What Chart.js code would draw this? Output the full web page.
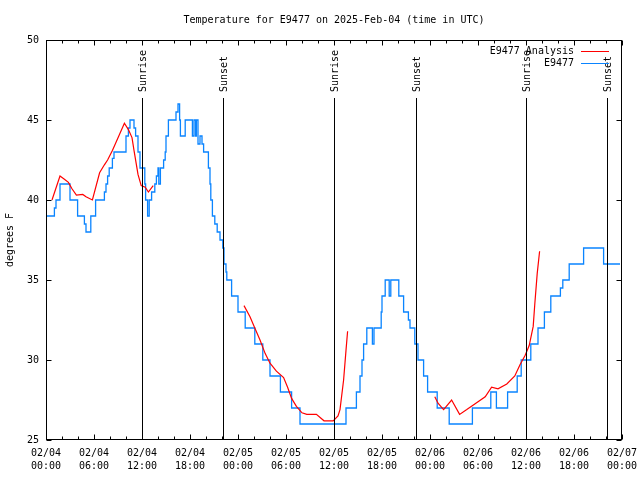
<!DOCTYPE html>
<html>
<head>
<meta charset="utf-8">
<script src="https://cdn.jsdelivr.net/npm/chart.js@4"></script>
<style>
  body { margin: 0; background: #fff; }
  canvas { display: block; }
</style>
</head>
<body>
<canvas id="chart" width="640" height="480"></canvas>
<script>
// Observed temperature (hours since 02/04 00:00 UTC, degrees F), step data
const obsHours = [0.0, 1.05, 1.25, 1.75, 3.0, 3.95, 4.8, 5.0, 5.6, 6.2, 7.3, 7.5, 7.7, 7.9, 8.3, 8.5,
  10.0, 10.3, 10.5, 11.0, 11.2, 11.5, 11.75, 12.35, 12.45, 12.7, 12.9, 13.2, 13.6, 13.8, 14.0, 14.1,
  14.3, 14.7, 14.9, 15.0, 15.3, 16.25, 16.5, 16.7, 16.8, 17.4, 18.3, 18.5, 18.7, 18.8, 19.0, 19.25,
  19.5, 19.7, 20.3, 20.5, 20.6, 20.8, 21.1, 21.4, 21.75, 22.1, 22.25, 22.5, 22.6, 23.2, 24.0, 24.9,
  26.1, 27.1, 28.0, 29.3, 30.7, 31.75, 37.5, 38.8, 39.25, 39.5, 39.7, 40.1, 40.8, 41.0, 41.9, 42.0,
  42.4, 42.9, 43.1, 44.1, 44.7, 45.3, 45.5, 46.1, 46.5, 47.2, 47.7, 48.9, 50.4, 53.3, 55.6, 56.3,
  57.7, 58.9, 59.4, 60.6, 61.5, 62.3, 63.1, 64.3, 64.6, 65.4, 67.2, 69.7, 71.75];
const obsTemps = [39, 39.5, 40, 41, 40, 39, 38.5, 38, 39, 40, 40.5, 41, 41.5, 42, 42.6, 43,
  44, 44.5, 45, 44.5, 44, 43, 42, 41, 40, 39, 40, 40.5, 41, 41.5, 42, 41,
  42, 42.5, 43, 44, 45, 45.5, 46, 45, 44, 45, 44, 45, 44, 45, 43.5, 44,
  43.5, 43, 42, 41, 40, 39, 38.5, 38, 37.5, 37, 36, 35.5, 35, 34, 33, 32,
  31, 30, 29, 28, 27, 26, 27, 28, 29, 30, 31, 32, 31, 32, 33, 34,
  35, 34, 35, 34, 33, 32.5, 32, 31, 30, 29, 28, 27, 26, 27, 28, 27,
  28, 29, 30, 31, 32, 33, 34, 34.5, 35, 36, 37, 36, 36];

// Analysis temperature (null = break in the line)
const anaHours = [0.75, 1.75, 2.3, 2.8, 3.25, 3.8, 4.6, 5.0, 5.8, 6.7, 7.3, 7.7, 8.3, 9.1, 9.8, 10.3,
  10.75, 11.0, 11.5, 11.9, 12.4, 12.8, 13.4, 18,
  24.75, 25.5, 26.1, 26.75, 27.4, 28.0, 28.8, 29.7, 30.2, 30.7, 31.3, 32.0, 32.6, 33.8, 34.75, 35.9,
  36.5, 36.75, 37.2, 37.5, 37.7, 43,
  48.6, 49.0, 49.7, 50.7, 51.7, 52.6, 53.6, 54.9, 55.7, 56.5, 57.6, 58.6, 59.25, 59.9, 60.4, 60.9,
  61.1, 61.4, 61.7];
const anaTemps = [40.0, 41.5, 41.3, 41.1, 40.7, 40.3, 40.35, 40.2, 40.0, 41.7, 42.2, 42.5, 43.1, 44.0, 44.8, 44.4,
  43.9, 43.1, 41.6, 40.9, 40.8, 40.5, 40.9, null,
  33.4, 32.7, 32.0, 31.25, 30.4, 29.8, 29.3, 28.9, 28.3, 27.6, 27.1, 26.7, 26.6, 26.6, 26.2, 26.2,
  26.5, 26.9, 28.75, 30.6, 31.8, null,
  27.7, 27.3, 26.9, 27.5, 26.6, 26.9, 27.25, 27.7, 28.3, 28.2, 28.5, 29.0, 29.7, 30.3, 30.9, 32.1,
  33.5, 35.4, 36.8];

// Sunrise / sunset markers (hours)
const sunHours = [12.05, 22.17, 36.03, 46.2, 59.98, 70.17];
const sunLabels = ['Sunrise', 'Sunset', 'Sunrise', 'Sunset', 'Sunrise', 'Sunset'];

const xTickLabels = [
  ['02/04', '00:00'], ['02/04', '06:00'], ['02/04', '12:00'], ['02/04', '18:00'],
  ['02/05', '00:00'], ['02/05', '06:00'], ['02/05', '12:00'], ['02/05', '18:00'],
  ['02/06', '00:00'], ['02/06', '06:00'], ['02/06', '12:00'], ['02/06', '18:00'],
  ['02/07', '00:00']
];

const FONT = 'DejaVu Sans Mono';
const BLUE = '#0a84ff';
const RED = '#ff0000';

const gnuplotLook = {
  id: 'gnuplotLook',
  afterDatasetsDraw(chart) {
    const { ctx, chartArea: a, scales: { x, y } } = chart;
    const L = Math.round(a.left) + 0.5, R = Math.round(a.right) - 0.5;
    const T = Math.round(a.top) + 0.5, B = Math.round(a.bottom) - 0.5;
    ctx.save();
    ctx.strokeStyle = '#000';
    ctx.lineWidth = 1;
    ctx.beginPath();
    // inward tick marks, x every 2h (major every 6h)
    for (let h = 0; h <= 72; h += 2) {
      const px = Math.round(x.getPixelForValue(h)) + 0.5;
      const len = h % 6 === 0 ? 5 : 3;
      ctx.moveTo(px, B); ctx.lineTo(px, B - len);
      ctx.moveTo(px, T); ctx.lineTo(px, T + len);
    }
    for (let v = 25; v <= 50; v += 5) {
      const py = Math.round(y.getPixelForValue(v)) + 0.5;
      ctx.moveTo(L, py); ctx.lineTo(L + 5, py);
      ctx.moveTo(R, py); ctx.lineTo(R - 5, py);
    }
    // sunrise / sunset lines
    sunHours.forEach(h => {
      const px = Math.round(x.getPixelForValue(h)) + 0.5;
      ctx.moveTo(px, 98); ctx.lineTo(px, B);
    });
    ctx.stroke();
    ctx.strokeRect(L, T, R - L, B - T);

    ctx.fillStyle = '#000';
    ctx.font = '10px "' + FONT + '"';
    sunHours.forEach((h, i) => {
      const px = Math.round(x.getPixelForValue(h)) + 1;
      ctx.save();
      ctx.translate(px, 92);
      ctx.rotate(-Math.PI / 2);
      ctx.textAlign = 'left';
      ctx.textBaseline = 'middle';
      ctx.fillText(sunLabels[i], 0, 0);
      ctx.restore();
    });

    // legend
    ctx.textAlign = 'right';
    ctx.textBaseline = 'middle';
    const rows = [['E9477 Analysis', RED, 51], ['E9477', BLUE, 63]];
    rows.forEach(([txt, col, ly]) => {
      ctx.fillStyle = '#000';
      ctx.fillText(txt, 574, ly);
      ctx.strokeStyle = col;
      ctx.beginPath();
      ctx.moveTo(581, ly + 0.5); ctx.lineTo(609, ly + 0.5);
      ctx.stroke();
    });

    // title
    ctx.fillStyle = '#000';
    ctx.textAlign = 'center';
    ctx.fillText('Temperature for E9477 on 2025-Feb-04 (time in UTC)', 334, 20);
    ctx.restore();
  }
};

new Chart(document.getElementById('chart'), {
  type: 'line',
  data: {
    datasets: [
      {
        label: 'E9477 Analysis',
        data: anaHours.map((h, i) => ({ x: h, y: anaTemps[i] })),
        borderColor: RED,
        borderWidth: 1.2,
        pointRadius: 0,
        tension: 0,
        spanGaps: false
      },
      {
        label: 'E9477',
        data: obsHours.map((h, i) => ({ x: h, y: obsTemps[i] })),
        borderColor: BLUE,
        borderWidth: 1.3,
        pointRadius: 0,
        stepped: true
      }
    ]
  },
  options: {
    responsive: false,
    animation: false,
    layout: { padding: { top: 40, right: 18, left: 0, bottom: 0 } },
    plugins: { legend: { display: false }, tooltip: { enabled: false } },
    scales: {
      x: {
        type: 'linear',
        min: 0, max: 72,
        afterFit: s => { s.height = 40; s.paddingRight = 0; s.paddingLeft = 0; },
        grid: { display: false, drawTicks: false },
        border: { display: false },
        ticks: {
          stepSize: 6,
          autoSkip: false,
          maxRotation: 0,
          padding: 7,
          color: '#000',
          font: { family: FONT, size: 10, lineHeight: 1.3 },
          callback: (v, i) => xTickLabels[i]
        }
      },
      y: {
        min: 25, max: 50,
        afterFit: s => { s.width = 46; },
        grid: { display: false, drawTicks: false },
        border: { display: false },
        ticks: {
          stepSize: 5,
          padding: 7,
          color: '#000',
          font: { family: FONT, size: 10 }
        },
        title: {
          display: true,
          text: 'degrees F',
          color: '#000',
          padding: { top: 4, bottom: 0 },
          font: { family: FONT, size: 10, lineHeight: 1.2 }
        }
      }
    }
  },
  plugins: [gnuplotLook]
});
</script>
</body>
</html>
